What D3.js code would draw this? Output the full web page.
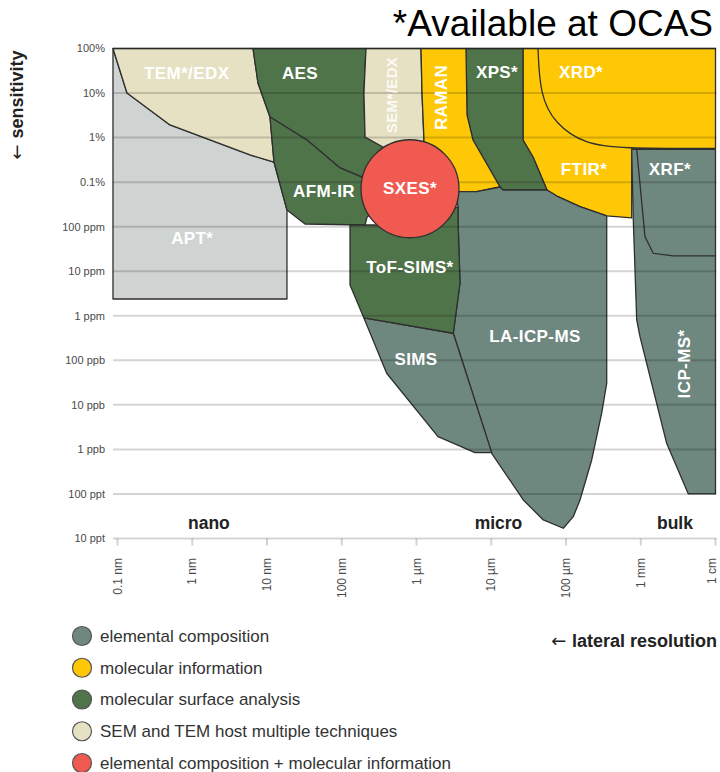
<!DOCTYPE html>
<html>
<head>
<meta charset="utf-8">
<script src="https://cdn.jsdelivr.net/npm/d3@7"></script>
<style>
body { margin: 0; background: #fff; }
text { font-family: "Liberation Sans", Arial, sans-serif; }
.arrow { font-family: "DejaVu Sans", sans-serif; font-weight: normal; }
</style>
</head>
<body>
<div id="chart"></div>
<script>
let svgWidth = 720;
let svgHeight = 772;

// axes: lateral resolution in nm, sensitivity as a fraction
let xTicks = [0.1, 1, 10, 100, 1e3, 1e4, 1e5, 1e6, 1e7];
let xTickLabels = ["0.1 nm", "1 nm", "10 nm", "100 nm", "1 µm", "10 µm", "100 µm", "1 mm", "1 cm"];
let yTicks = [1, 1e-1, 1e-2, 1e-3, 1e-4, 1e-5, 1e-6, 1e-7, 1e-8, 1e-9, 1e-10, 1e-11];
let yTickLabels = ["100%", "10%", "1%", "0.1%", "100 ppm", "10 ppm", "1 ppm", "100 ppb", "10 ppb", "1 ppb", "100 ppt", "10 ppt"];

let categories = ["elemental composition", "molecular information", "molecular surface analysis",
  "SEM and TEM host multiple techniques", "elemental composition + molecular information"];

// technique outlines, [nm, fraction]
let apt = [[0.087, 1], [0.134, 0.1], [0.504, 0.0192], [5.92, 0.00407], [12.4, 0.00283], [18.5, 0.000237], [18.5, 2.38e-6], [0.087, 2.38e-6]];
let tem = [[0.087, 1], [6.5, 1], [7.58, 0.168], [10.97, 0.029], [12.4, 0.00283], [5.92, 0.00407], [0.504, 0.0192], [0.134, 0.1]];
let aes = [[6.5, 1], [211, 1], [198, 0.1], [205, 0.0103], [356, 0.00615], [818, 0.0007], [187, 0.0013], [94.8, 0.00208], [34.3, 0.00883], [10.97, 0.029], [7.58, 0.168]];
let sem = [[211, 1], [1149, 1], [1185, 0.1], [1260, 0.00883], [818, 0.0007], [356, 0.00615], [205, 0.0103], [198, 0.1]];
let afm = [[10.97, 0.029], [34.3, 0.00883], [94.8, 0.00208], [187, 0.0013], [818, 0.0007], [218, 0.000165], [205, 0.000109], [32.2, 0.000115], [18.5, 0.000237], [12.4, 0.00283]];
let ftir = [[26590, 1], [1e7, 1], [1e7, 0.00555], [756700, 0.00555], [756700, 0.000157], [350400, 0.000174], [153900, 0.000281], [78160, 0.000471], [55690, 0.000666], [36190, 0.00367], [26590, 0.00883]];
let xps = [[4594, 1], [26590, 1], [26590, 0.00883], [36190, 0.00367], [55690, 0.000666], [14363, 0.000666], [13095, 0.000778], [5700, 0.00883], [4738, 0.0322]];
let raman = [[1149, 1], [4594, 1], [4738, 0.0322], [5700, 0.00883], [13095, 0.000778], [6388, 0.00061], [3449, 0.00061], [818, 0.0007], [1260, 0.00883], [1185, 0.1]];
let laIcp = [[3449, 0.00061], [6388, 0.00061], [13095, 0.000778], [14363, 0.000666], [55690, 0.000666], [78160, 0.000471], [153900, 0.000281], [350400, 0.000174],
  [350400, 3.05e-8], [300300, 6.51e-9], [220700, 5.79e-10], [153900, 7.33e-11], [125200, 3.09e-11], [92000, 1.7e-11], [49700, 2.61e-11], [26850, 7.33e-11],
  [10140, 8.19e-10], [3107, 4.05e-7], [3818, 5.45e-6], [3589, 0.000141], [3589, 0.000277]];
let sims = [[198, 8.93e-7], [399, 5.12e-8], [1940, 1.93e-9], [6062, 8.45e-10], [10140, 8.45e-10], [3107, 4.05e-7]];
let tof = [[129, 0.000109], [818, 0.000109], [3589, 0.000277], [3589, 0.000141], [3818, 5.45e-6], [3107, 4.05e-7], [198, 8.93e-7], [129, 4.91e-6]];
let icp = [[756700, 0.00546], [1e7, 0.00546], [1e7, 1e-10], [4.33e6, 1e-10], [2.22e6, 1.37e-9], [977000, 3.4e-7], [882600, 8.05e-7], [795000, 0.000141]];

// inner outlines (XRD inside the yellow block, XRF inside ICP-MS)
let xrdEdge = [[42220, 1], [44890, 0.0904], [71290, 0.0202], [179600, 0.00718], [527800, 0.00569], [1e7, 0.00569]];
let xrfEdge = [[882600, 0.00546], [1.14e6, 5.96e-5], [1.47e6, 2.53e-5], [2.73e6, 2.2e-5], [1e7, 2.2e-5]];

let sxesCenter = [818, 7.1e-4];

// labels
let labelNames = ["TEM*/EDX", "AES", "SEM*/EDX", "RAMAN", "XPS*", "XRD*", "AFM-IR", "SXES*", "APT*", "FTIR*", "XRF*", "ToF-SIMS*", "SIMS", "LA-ICP-MS", "ICP-MS*"];
let labelAt = [[0.843, 0.286], [27.6, 0.286], [466, 0.0904], [2127, 0.0795], [11940, 0.301], [158800, 0.301], [57.9, 6.43e-4], [818, 7.4e-4],
  [1.0, 5.49e-5], [174100, 1.97e-3], [2.46e6, 1.97e-3], [818, 1.26e-5], [985, 1.06e-7], [38490, 3.52e-7], [3.79e6, 8.28e-8]];
let labelRotated = ["SEM*/EDX", "RAMAN", "ICP-MS*"];

let scaleNames = ["nano", "micro", "bulk"];
let scaleAt = [1.67, 12500, 2.87e6];

let colors = ["#6e877f", "#fec806", "#50744a", "#e6e1c3", "#f05a50"];
let aptColor = "#cfd4d2";

let layers = [
  [apt, aptColor], [tem, colors[3]], [aes, colors[2]], [sem, colors[3]], [afm, colors[2]],
  [ftir, colors[1]], [xps, colors[2]], [raman, colors[1]], [laIcp, colors[0]], [sims, colors[0]],
  [tof, colors[2]], [icp, colors[0]]
];

let x = d3.scaleLog().domain([0.1, 1e7]).range([117.5, 715.5]);
let y = d3.scaleLog().domain([1, 1e-11]).range([48.5, 538.5]);

let svg = d3.select("#chart")
  .append("svg")
  .attr("width", svgWidth)
  .attr("height", svgHeight);

let outline = d3.line().x(d => x(d[0])).y(d => y(d[1]));

svg.append("g")
  .selectAll("path")
  .data(layers)
  .enter()
  .append("path")
  .attr("d", d => outline(d[0]) + "Z")
  .attr("fill", d => d[1])
  .attr("stroke", "#2f2f2f")
  .attr("stroke-width", 1.3)
  .attr("stroke-linejoin", "round");

let curved = d3.line().x(d => x(d[0])).y(d => y(d[1])).curve(d3.curveBasis);

svg.append("path")
  .attr("d", curved(xrdEdge))
  .attr("fill", "none")
  .attr("stroke", "#2f2f2f")
  .attr("stroke-width", 1.3);

svg.append("path")
  .attr("d", outline(xrfEdge))
  .attr("fill", "none")
  .attr("stroke", "#2f2f2f")
  .attr("stroke-width", 1.3);

// grid lines run over the shapes
svg.append("g")
  .selectAll("line")
  .data(yTicks)
  .enter()
  .append("line")
  .attr("x1", x(0.087))
  .attr("x2", x(1e7) + 1)
  .attr("y1", d => y(d))
  .attr("y2", d => y(d))
  .attr("stroke", "rgba(0,0,0,0.17)")
  .attr("stroke-width", 2);

svg.append("g")
  .selectAll("line")
  .data(xTicks)
  .enter()
  .append("line")
  .attr("x1", d => x(d))
  .attr("x2", d => x(d))
  .attr("y1", y(1e-11))
  .attr("y2", y(1e-11) + 7)
  .attr("stroke", "rgba(0,0,0,0.17)")
  .attr("stroke-width", 2);

svg.append("g")
  .selectAll("text")
  .data(yTicks)
  .enter()
  .append("text")
  .attr("x", 105)
  .attr("y", d => y(d))
  .attr("dy", "0.35em")
  .attr("text-anchor", "end")
  .attr("font-size", 11)
  .attr("fill", "#4a4a4a")
  .text((d, i) => yTickLabels[i]);

svg.append("g")
  .selectAll("text")
  .data(xTicks)
  .enter()
  .append("text")
  .attr("transform", d => `translate(${Math.min(x(d) + 4, 716)}, 558) rotate(-90)`)
  .attr("text-anchor", "end")
  .attr("font-size", 12)
  .attr("fill", "#4a4a4a")
  .text((d, i) => xTickLabels[i]);

// SXES circle sits on top of everything
svg.append("circle")
  .attr("cx", x(sxesCenter[0]))
  .attr("cy", y(sxesCenter[1]))
  .attr("r", 49)
  .attr("fill", colors[4])
  .attr("stroke", "#2f2f2f")
  .attr("stroke-width", 1.3);

svg.append("g")
  .selectAll("text")
  .data(labelNames)
  .enter()
  .append("text")
  .attr("transform", (d, i) => {
    let t = `translate(${x(labelAt[i][0])}, ${y(labelAt[i][1])})`;
    return labelRotated.includes(d) ? t + " rotate(-90)" : t;
  })
  .attr("dy", "0.35em")
  .attr("text-anchor", "middle")
  .attr("font-size", d => d == "SEM*/EDX" ? 15 : 17)
  .attr("font-weight", "bold")
  .attr("letter-spacing", 0.4)
  .attr("fill", "#fff")
  .attr("fill-opacity", d => d == "SEM*/EDX" ? 0.85 : 1)
  .text(d => d);

svg.append("g")
  .selectAll("text")
  .data(scaleNames)
  .enter()
  .append("text")
  .attr("x", (d, i) => x(scaleAt[i]))
  .attr("y", 529)
  .attr("text-anchor", "middle")
  .attr("font-size", 17.5)
  .attr("font-weight", "bold")
  .attr("fill", "#222")
  .text(d => d);

let sens = svg.append("text")
  .attr("transform", "translate(23, 105) rotate(-90)")
  .attr("text-anchor", "middle")
  .attr("font-size", 18)
  .attr("font-weight", "bold")
  .attr("fill", "#222");
sens.append("tspan").attr("class", "arrow").text("\u2190 ");
sens.append("tspan").text("sensitivity");

let lat = svg.append("text")
  .attr("x", 717)
  .attr("y", 646.5)
  .attr("text-anchor", "end")
  .attr("font-size", 18)
  .attr("font-weight", "bold")
  .attr("fill", "#222");
lat.append("tspan").attr("class", "arrow").text("\u2190 ");
lat.append("tspan").text("lateral resolution");

svg.append("text")
  .attr("x", 713)
  .attr("y", 36)
  .attr("text-anchor", "end")
  .attr("font-size", 37)
  .attr("fill", "#000")
  .text("*Available at OCAS");

// legend
let legend = svg.append("g")
  .selectAll("g")
  .data(categories)
  .enter()
  .append("g")
  .attr("transform", (d, i) => `translate(82, ${636 + i * 31.75})`);

legend.append("circle")
  .attr("r", 9.5)
  .attr("fill", (d, i) => colors[i])
  .attr("stroke", "#555")
  .attr("stroke-width", 1.2);

legend.append("text")
  .attr("x", 18)
  .attr("dy", "0.35em")
  .attr("font-size", 17)
  .attr("fill", "#333")
  .text(d => d);
</script>
</body>
</html>
